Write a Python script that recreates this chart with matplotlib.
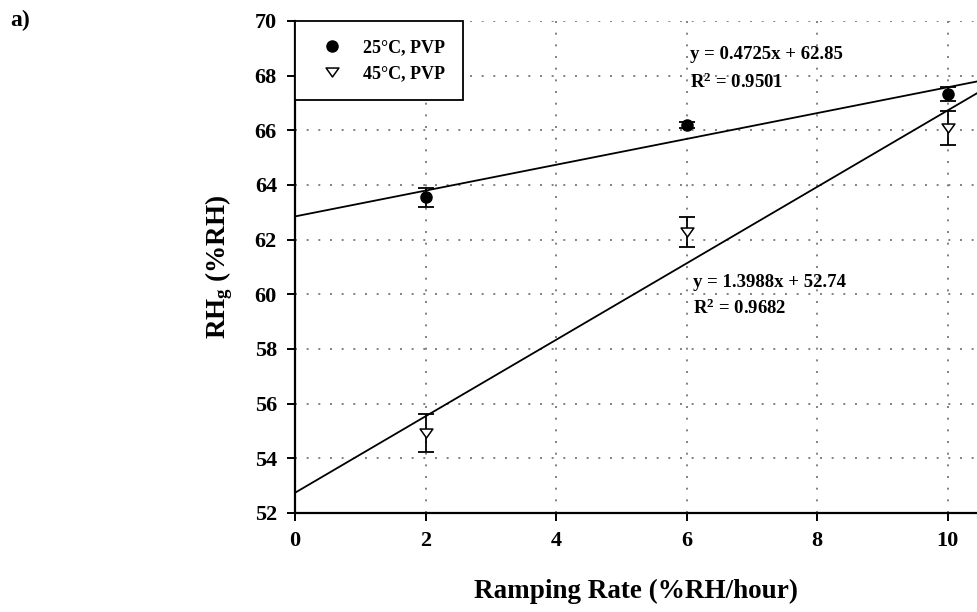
import matplotlib
matplotlib.use('Agg')
import matplotlib.pyplot as plt
from matplotlib.lines import Line2D
from matplotlib.path import Path
import numpy as np

plt.rcParams['font.family'] = ['Liberation Serif', 'DejaVu Serif']
plt.rcParams['font.weight'] = 'bold'
plt.rcParams['mathtext.fontset'] = 'custom'
plt.rcParams['mathtext.rm'] = 'Liberation Serif:bold'
plt.rcParams['mathtext.bf'] = 'Liberation Serif:bold'
plt.rcParams['mathtext.it'] = 'Liberation Serif:bold'

# ramping rate (%RH/hour)
rate = [2, 6, 10]

# 25 C, PVP
rh_25 = [63.55, 66.2, 67.33]
err_25 = [0.35, 0.1, 0.25]

# 45 C, PVP
rh_45 = [54.93, 62.28, 66.1]
err_45 = [0.68, 0.55, 0.62]

# linear fits: slope, intercept, R^2
fit_25 = (0.4725, 62.85, 0.9501)
fit_45 = (1.3988, 52.74, 0.9682)

xmax = 10.45

# flat open down-triangle
tri = Path([(-1, 0.7), (1, 0.7), (0, -0.7), (-1, 0.7)],
           [Path.MOVETO, Path.LINETO, Path.LINETO, Path.CLOSEPOLY])

fig = plt.figure(figsize=(9.77, 6.12), dpi=100)
ax = fig.add_axes([295 / 977, 99 / 612, 682 / 977, 492 / 612])

xx = np.array([0, xmax])
ax.plot(xx, fit_25[0] * xx + fit_25[1], color='k', lw=1.3, zorder=3)
ax.plot(xx, fit_45[0] * xx + fit_45[1], color='k', lw=1.3, zorder=3)

ax.errorbar(rate, rh_25, yerr=err_25, fmt='o', color='k', ms=8,
            capsize=5.5, elinewidth=1.3, capthick=1.3, zorder=4)
ax.errorbar(rate, rh_45, yerr=err_45, fmt='none', ecolor='k',
            capsize=5.5, elinewidth=1.3, capthick=1.3, zorder=4)
ax.plot(rate, rh_45, ls='none', marker=tri, ms=9.2, mfc='white', mec='k',
        mew=1.1, zorder=5)

txt = dict(fontsize=13.5, fontweight='bold', va='center', ha='left')
ax.text(6.05, 68.76, 'y = %.4fx + %.2f' % (fit_25[0], fit_25[1]), **txt)
ax.text(6.05, 67.77, 'R$^{2}$ = %.4f' % fit_25[2], **txt)
ax.text(6.1, 60.45, 'y = %.4fx + %.2f' % (fit_45[0], fit_45[1]), **txt)
ax.text(6.1, 59.5, 'R$^{2}$ = %.4f' % fit_45[2], **txt)

ax.set_xlim(0, xmax)
ax.set_ylim(52, 70)
ax.set_xticks(np.arange(0, 11, 2))
ax.set_yticks(np.arange(52, 71, 2))
ax.tick_params(direction='out', length=6, width=1.4, labelsize=16, pad=7)
for lbl in ax.get_xticklabels() + ax.get_yticklabels():
    lbl.set_fontweight('bold')

ax.grid(True, color='#7f7f8c', linestyle=(0, (1, 5)), lw=1.4)
for sp in ('top', 'right'):
    ax.spines[sp].set_visible(False)
for sp in ('left', 'bottom'):
    ax.spines[sp].set_linewidth(1.6)

ax.set_xlabel('Ramping Rate (%RH/hour)', fontsize=19.5, fontweight='bold', labelpad=20)
ax.set_ylabel('RH$_{g}$ (%RH)', fontsize=19.5, fontweight='bold', labelpad=14)

handles = [Line2D([], [], ls='none', marker='o', color='k', ms=8),
           Line2D([], [], ls='none', marker=tri, ms=9.2, mfc='white', mec='k', mew=1.1)]
leg = ax.legend(handles, ['25°C, PVP', '45°C, PVP'], loc='upper left',
                bbox_to_anchor=(0, 1), borderaxespad=0, fancybox=False,
                edgecolor='k', framealpha=1, fontsize=13, handlelength=2.1,
                handletextpad=0.67, labelspacing=0.5, borderpad=1.0)
leg.get_frame().set_linewidth(1.3)
leg.set_zorder(6)

fig.text(10 / 977, 1 - 20 / 612, 'a)', fontsize=17, fontweight='bold', va='center')

fig.savefig('out.png', dpi=100)
